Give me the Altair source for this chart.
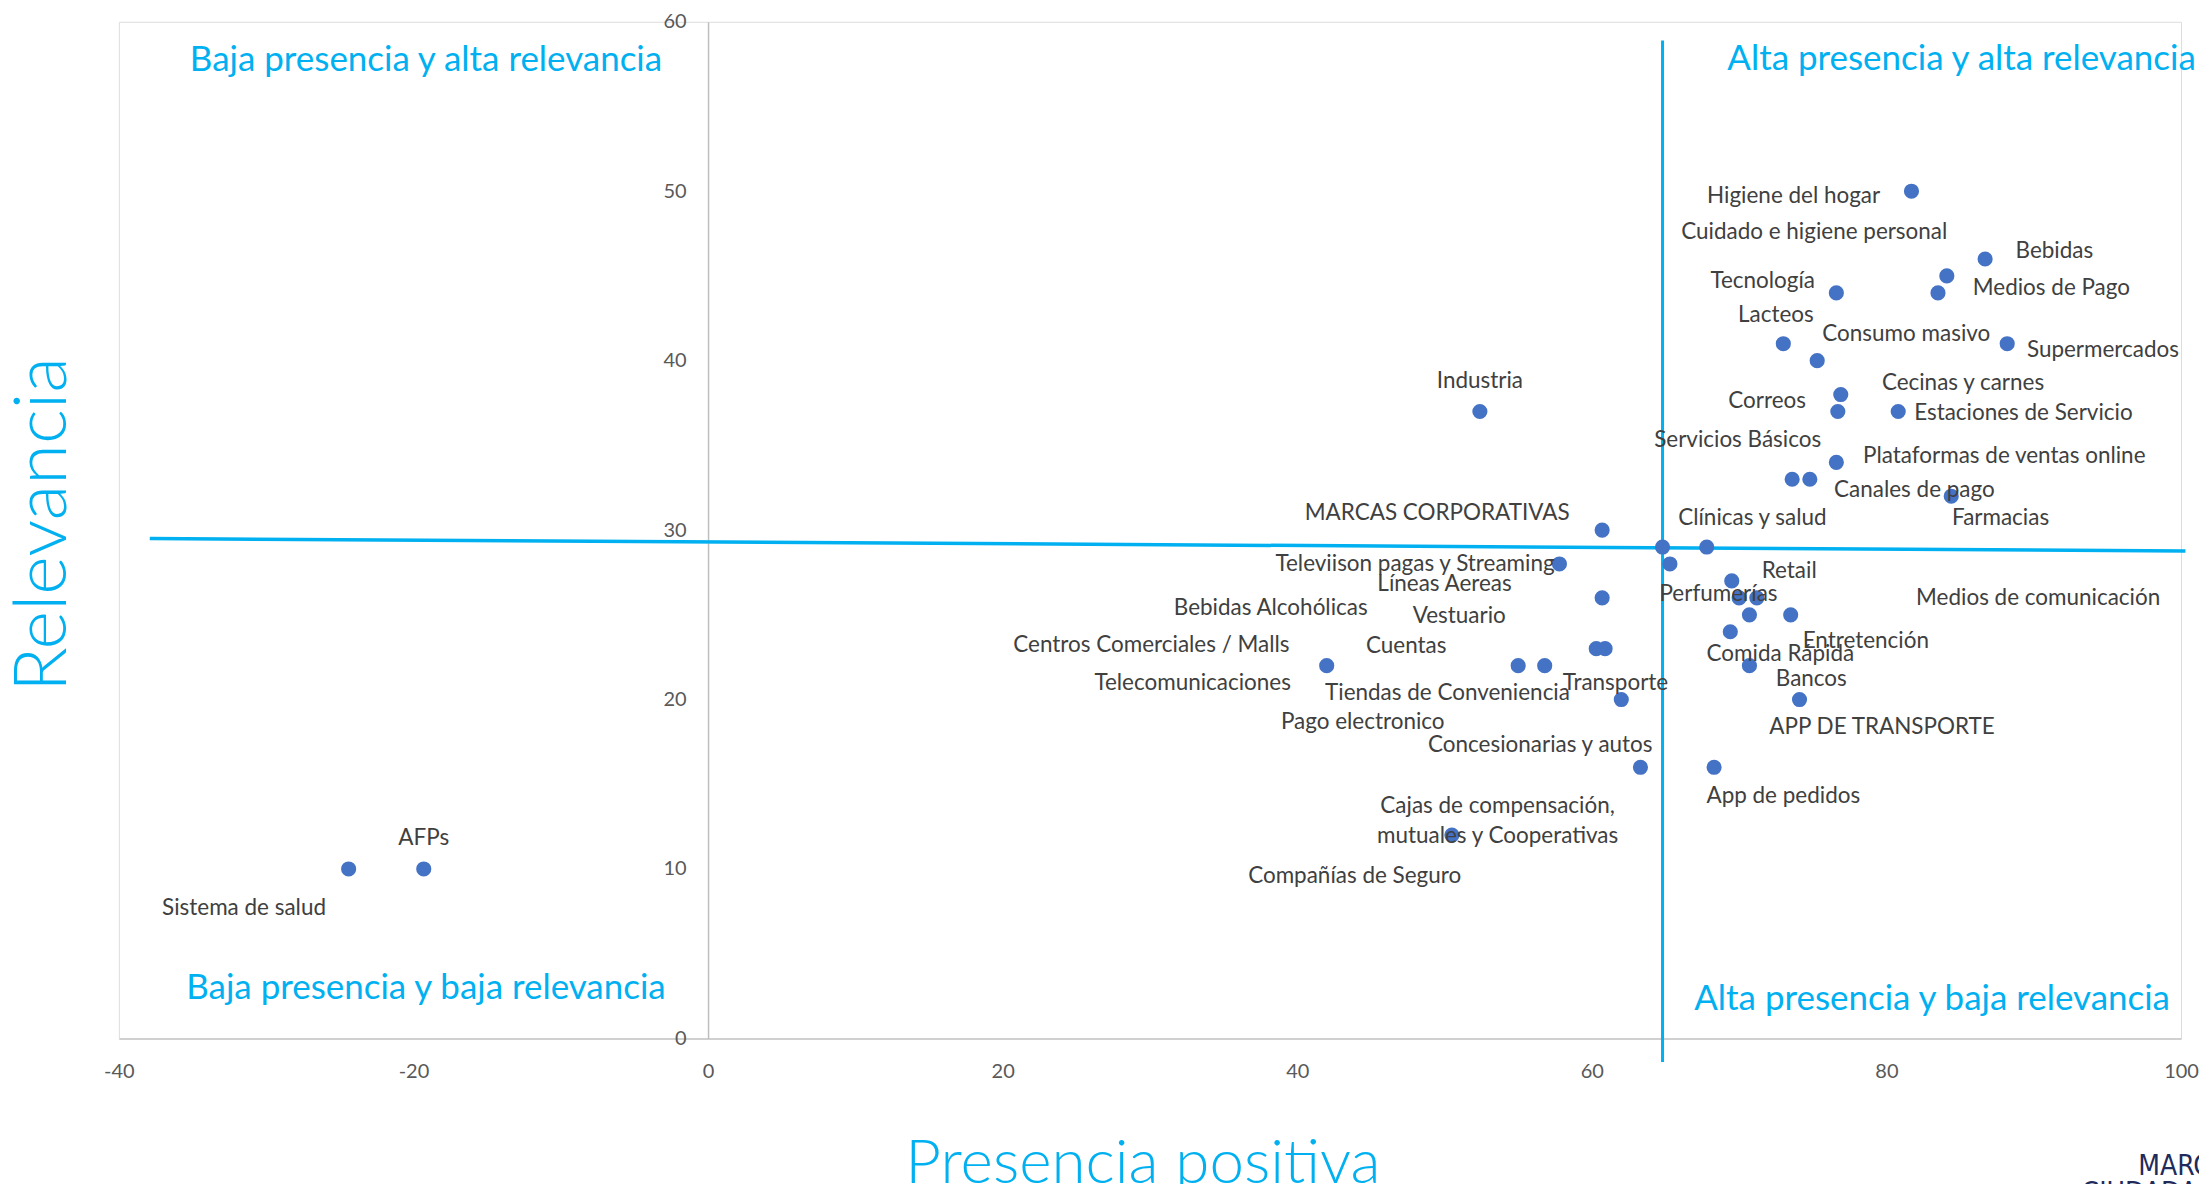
import altair as alt
import pandas as pd

# ---- data ----
names = [
    "Higiene del hogar", "Cuidado e higiene personal", "Bebidas", "Tecnología",
    "Medios de Pago", "Lacteos", "Consumo masivo", "Supermercados",
    "Cecinas y carnes", "Correos", "Estaciones de Servicio", "Servicios Básicos",
    "Plataformas de ventas online", "Canales de pago", "Farmacias", "Industria",
    "MARCAS CORPORATIVAS", "Clínicas y salud", "Televiison pagas y Streaming",
    "Líneas Aereas", "Retail", "Perfumerías", "Medios de comunicación",
    "Bebidas Alcohólicas", "Vestuario", "Centros Comerciales / Malls", "Cuentas",
    "Entretención", "Comida Rápida", "Telecomunicaciones", "Tiendas de Conveniencia",
    "Transporte", "Bancos", "Pago electronico", "APP DE TRANSPORTE",
    "Concesionarias y autos", "App de pedidos",
    "Cajas de compensación,\nmutuales y Cooperativas", "Compañías de Seguro",
    "AFPs", "Sistema de salud",
]
presencia = [
    81.7, 84.1, 86.7, 76.6,
    83.5, 73.0, 75.3, 88.2,
    76.9, 76.7, 80.8, 73.6,
    76.6, 74.8, 84.4, 52.4,
    60.7, 67.8, 57.8,
    60.7, 69.5, 70.0, 71.2,
    60.3, 60.9, 42.0, 55.0,
    73.5, 69.4, 64.8, 56.8,
    62.0, 70.7, 65.3, 74.1,
    63.3, 68.3,
    50.5, 70.7,
    -19.3, -24.4,
]
relevancia = [
    50, 45, 46, 44,
    44, 41, 40, 41,
    38, 37, 37, 33,
    34, 33, 32, 37,
    30, 29, 28,
    26, 27, 26, 26,
    23, 23, 22, 22,
    25, 24, 29, 22,
    20, 22, 28, 20,
    16, 16,
    12, 25,
    10, 10,
]
# label anchor (text centre) in data units, as placed in the original
label_x = [
    73.7, 75.1, 91.4, 71.6,
    91.2, 72.5, 81.35, 94.7,
    85.2, 71.9, 89.3, 69.9,
    88.0, 81.9, 87.75, 52.4,
    49.5, 70.9, 48.0,
    50.0, 73.4, 68.6, 90.3,
    38.2, 51.0, 30.1, 47.4,
    78.6, 72.8, 32.9, 50.2,
    61.6, 74.9, 44.45, 79.7,
    56.5, 73.0,
    53.6, 43.9,
    -19.3, -31.5,
]
label_y = [
    49.7, 47.6, 46.5, 44.7,
    44.3, 42.7, 41.55, 40.6,
    38.7, 37.6, 36.9, 35.3,
    34.4, 32.35, 30.7, 38.8,
    31.0, 30.7, 28.0,
    26.8, 27.6, 26.2, 26.0,
    25.4, 24.9, 23.2, 23.15,
    23.45, 22.7, 21.0, 20.4,
    20.95, 21.2, 18.7, 18.4,
    17.3, 14.3,
    13.7, 9.6,
    11.85, 7.7,
]

x_ticks = [-40, -20, 0, 20, 40, 60, 80, 100]
y_ticks = [0, 10, 20, 30, 40, 50, 60]

quad_text = [
    "Baja presencia y alta relevancia", "Alta presencia y alta relevancia",
    "Baja presencia y baja relevancia", "Alta presencia y baja relevancia",
]
quad_x = [-19.15, 85.1, -19.15, 83.1]
quad_y = [57.75, 57.8, 3.0, 2.34]

hline_x = [-37.9, 100.3]
hline_y = [29.5, 28.77]
vline_x = [64.8, 64.8]
vline_y = [-1.4, 58.9]

# logo text in the bottom-right corner (cut off by the page edge in the original)
logo_text = ["MARCAS", "CIUDADANAS"]
logo_x = [97.1, 93.25]
logo_y = [-8.04, -9.64]

# ---- chart ----
W, H = 2065, 1018
CYAN = "#00B0F0"
FONT = "Lato"

xs = alt.Scale(domain=[x_ticks[0], x_ticks[-1]], nice=False, zero=False)
ys = alt.Scale(domain=[y_ticks[0], y_ticks[-1]], nice=False, zero=False)
ypos = W * (0 - x_ticks[0]) / (x_ticks[-1] - x_ticks[0])

xaxis = alt.Axis(
    values=x_ticks, title="Presencia positiva", grid=False, ticks=False, tickSize=0,
    labelExpr="'' + datum.value",
    labelFont=FONT, labelFontSize=20, labelColor="#595959", labelPadding=23,
    labelFlush=False, domainColor="#D0D0D0", domainWidth=2,
    titleFont=FONT, titleFontSize=62, titleFontWeight=300, titleColor=CYAN,
    titleX=1025, titleY=144, titleBaseline="alphabetic", titleAlign="center",
)
yaxis = alt.Axis(
    values=y_ticks, title="Relevancia", grid=False, ticks=False, tickSize=0,
    offset=-ypos, labelFont=FONT, labelFontSize=20, labelColor="#595959",
    labelPadding=22, domainColor="#BFBFBF", domainWidth=1.5,
    titleFont=FONT, titleFontSize=74, titleFontWeight=300, titleColor=CYAN,
    titleAngle=270, titleX=-(ypos + 75), titleY=503, titleBaseline="middle",
    titleAlign="center",
)


def enc(ch):
    return ch.encode(
        x=alt.X("x:Q", scale=xs, axis=xaxis),
        y=alt.Y("y:Q", scale=ys, axis=yaxis),
    )


pts = pd.DataFrame({"x": presencia, "y": relevancia, "name": names})
labs = pd.DataFrame({"x": label_x, "y": label_y, "name": names})
quads = pd.DataFrame({"x": quad_x, "y": quad_y, "t": quad_text})
hl = pd.DataFrame({"x": hline_x, "y": hline_y})
vl = pd.DataFrame({"x": vline_x, "y": vline_y})
logo = pd.DataFrame({"x": logo_x, "y": logo_y, "t": logo_text})

hline = enc(alt.Chart(hl).mark_line(color=CYAN, strokeWidth=3.5))
vline = enc(alt.Chart(vl).mark_line(color=CYAN, strokeWidth=3))
quad = enc(alt.Chart(quads).mark_text(
    font=FONT, fontSize=35, color=CYAN, align="center", baseline="middle"
)).encode(text="t:N")
dots = enc(alt.Chart(pts).mark_circle(size=230, color="#4472C4", opacity=1))
texts = enc(alt.Chart(labs).mark_text(
    font=FONT, fontSize=22.5, color="#404040", align="center", baseline="middle",
    lineBreak="\n", lineHeight=30,
)).encode(text="name:N")
logo_marks = enc(alt.Chart(logo).mark_text(
    font="'DejaVu Sans Condensed', Roboto, sans-serif", fontSize=28,
    color="#1F2B5B", align="left", baseline="alphabetic",
)).encode(text="t:N")

chart = alt.layer(hline, vline, quad, dots, texts, logo_marks).properties(
    width=W, height=H,
    autosize=alt.AutoSizeParams(type="none"),
    padding={"left": 111, "top": 13, "right": 18, "bottom": 145},
).configure_view(stroke=None).configure(background="white")

chart.save("out.html", embed_options={"renderer": "svg", "actions": False})
